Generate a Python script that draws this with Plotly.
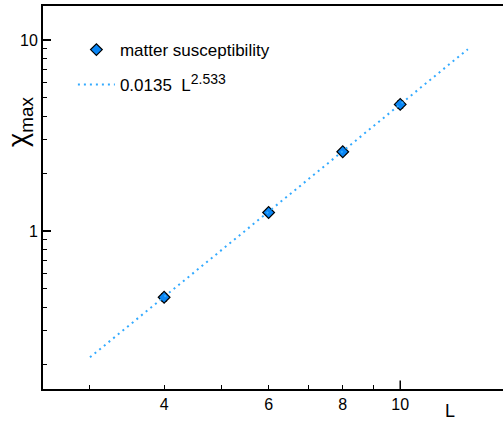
import numpy as np
import plotly.graph_objects as go

# data
L = [4, 6, 8, 10]
chi_max = [0.45, 1.25, 2.6, 4.6]
chi_err = [0.02, 0.04, 0.08, 0.2]
fit_amp = 0.0135
fit_exp = 2.533
fit_L = [3, 13]
fit_chi = [fit_amp * v ** fit_exp for v in fit_L]

x_ticks = [4, 6, 8, 10]
x_minor = [3, 5, 7, 9]
y_ticks = [1, 10]
y_minor = [0.2, 0.3, 0.4, 0.5, 0.6, 0.7, 0.8, 0.9, 2, 3, 4, 5, 6, 7, 8, 9]

FONT = "Liberation Sans, Arial, Helvetica, sans-serif"

fig = go.Figure()
fig.add_trace(go.Scatter(
    x=L, y=chi_max, mode="markers", name="matter susceptibility",
    marker=dict(symbol="diamond", size=9, color="#0a86f5",
                line=dict(color="black", width=1.2)),
    error_y=dict(type="data", array=chi_err, color="black", thickness=1, width=3),
    legend="legend",
))
fig.add_trace(go.Scatter(
    x=fit_L, y=fit_chi, mode="lines",
    name='0.0135  L<sup><span style="font-size:14px">2.533</span></sup>',
    line=dict(color="#33aaff", width=2, dash="2px,4px"),
    legend="legend2",
))

fig.update_layout(
    width=503, height=423,
    margin=dict(l=43, r=0, t=6, b=34),
    paper_bgcolor="white", plot_bgcolor="white",
    font=dict(family=FONT, size=16, color="black"),
    legend=dict(x=0.065, y=0.885, xanchor="left", yanchor="middle",
                itemwidth=37, font=dict(size=17), bgcolor="rgba(0,0,0,0)"),
    legend2=dict(x=0.065, y=0.794, xanchor="left", yanchor="middle",
                 itemwidth=37, font=dict(size=17), bgcolor="rgba(0,0,0,0)"),
    showlegend=True,
)

fig.update_xaxes(
    type="log", range=[np.log10(2.5), np.log10(14.9)],
    tickmode="array", tickvals=x_ticks, ticktext=[str(v) for v in x_ticks],
    ticks="inside", ticklen=4, tickwidth=1.2, tickcolor="black",
    minor=dict(tickmode="array", tickvals=x_minor, ticks="inside", ticklen=4,
               tickwidth=1.2, tickcolor="black", showgrid=False),
    showline=True, linewidth=2, linecolor="black", mirror=True,
    showgrid=False, zeroline=False,
    tickfont=dict(size=16),
)
fig.update_yaxes(
    type="log", range=[-0.827, 1.178],
    tickmode="array", tickvals=y_ticks, ticktext=[str(v) for v in y_ticks],
    ticks="inside", ticklen=8, tickwidth=1.5, tickcolor="black",
    minor=dict(tickmode="array", tickvals=y_minor, ticks="inside", ticklen=4,
               tickwidth=1.2, tickcolor="black", showgrid=False),
    showline=True, linewidth=2, linecolor="black", mirror=False,
    showgrid=False, zeroline=False,
    tickfont=dict(size=16),
)

# longer tick at L = 10
fig.add_shape(type="line", xref="x", yref="paper", x0=10, x1=10, y0=0, y1=0.022,
              line=dict(color="black", width=1.5))

# axis titles
fig.add_annotation(text="χ<sub>max</sub>", xref="paper", yref="paper",
                   x=-43/460 + 20/460, y=(389-122)/383, xanchor="center", yanchor="middle",
                   textangle=-90, showarrow=False, font=dict(size=27))
fig.add_annotation(text="L", xref="paper", yref="paper",
                   x=(450-43)/460, y=(389-411)/383, xanchor="center", yanchor="middle",
                   showarrow=False, font=dict(size=18))

fig.write_html("out.html")
